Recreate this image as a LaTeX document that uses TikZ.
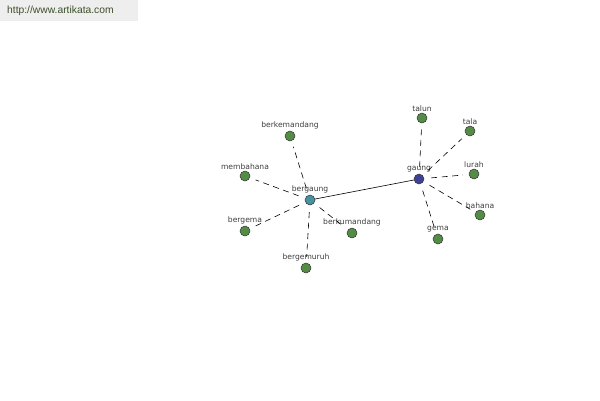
\documentclass[tikz,border=0pt]{standalone}
\usepackage{fontspec}
\setmainfont{Liberation Sans}
\newfontfamily\wordfont{DejaVu Sans}
\usetikzlibrary{positioning}
\definecolor{leafgreen}{RGB}{84,140,70}
\definecolor{hubteal}{RGB}{72,145,160}
\definecolor{hubblue}{RGB}{62,66,150}
\definecolor{wordgrey}{RGB}{60,60,60}
\definecolor{bannergrey}{RGB}{238,238,238}
\definecolor{bannertext}{RGB}{60,80,40}
\tikzset{
  % word dot: small filled circle, word printed above it
  word/.style={draw=black!80, circle, minimum size=10pt, inner sep=0pt, line width=0.5pt, fill=leafgreen},
  hubA/.style={word, fill=hubteal},
  hubB/.style={word, fill=hubblue},
  wlabel/.style={font=\wordfont\fontsize{7.6}{8}\selectfont, text=wordgrey, inner sep=1pt},
  % links
  simlink/.style={dashed, dash pattern=on 6pt off 4.5pt, line width=0.6pt, shorten <=7pt, shorten >=6pt},
  mainlink/.style={line width=0.6pt}
}

\begin{document}
\begin{tikzpicture}[x=1pt, y=-1pt]
\useasboundingbox (0,0) rectangle (600,400);

% ============== banner ==============
\node[fill=bannergrey, minimum width=138pt, minimum height=21pt, anchor=north west] (banner) at (0,0) {};
\node[font=\fontsize{10.3}{11}\selectfont, text=bannertext, anchor=west, inner sep=0pt] (url) at (7,11) {http://www.artikata.com};

% ============== hubs ==============
\node[hubA, label={[wlabel]above:bergaung}] (bergaung) at (310,200) {};
\node[hubB, label={[wlabel]above:gaung}] (gaung) at (419,179) {};

% ============== words round bergaung ==============
\node[word, label={[wlabel]above:berkemandang}] (berkemandang) at (290,136) {};
\node[word, label={[wlabel]above:membahana}] (membahana) at (245,176) {};
\node[word, label={[wlabel]above:bergema}] (bergema) at (245,231) {};
\node[word, label={[wlabel]above:berkumandang}] (berkumandang) at (352,233) {};
\node[word, label={[wlabel]above:bergemuruh}] (bergemuruh) at (306,268) {};

% ============== words round gaung ==============
\node[word, label={[wlabel]above:talun}] (talun) at (422,118) {};
\node[word, label={[wlabel]above:tala}] (tala) at (470,131) {};
\node[word, label={[wlabel]above:lurah}] (lurah) at (474,174) {};
\node[word, label={[wlabel]above:bahana}] (bahana) at (480,215) {};
\node[word, label={[wlabel]above:gema}] (gema) at (438,239) {};

% ============== links ==============
\draw[mainlink] (bergaung) -- (gaung);
\foreach \w in {berkemandang,membahana,bergema,berkumandang,bergemuruh}
  \draw[simlink] (bergaung) -- (\w);
\foreach \w in {talun,tala,lurah,bahana,gema}
  \draw[simlink] (gaung) -- (\w);

\end{tikzpicture}
\end{document}
